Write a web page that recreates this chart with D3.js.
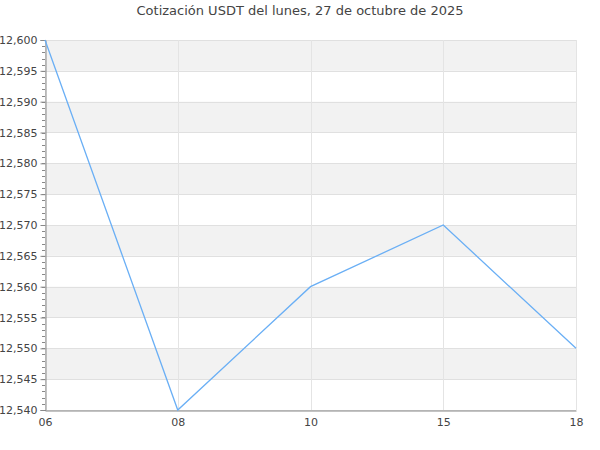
<!DOCTYPE html>
<html>
<head>
<meta charset="utf-8">
<script src="https://cdn.jsdelivr.net/npm/d3@7"></script>
</head>
<body style="margin:0; background:#fff;">
<div id="chart"></div>
<script>
    'use strict';

    var hours = ["06", "08", "10", "15", "18"];
    var prices = [12.600, 12.540, 12.560, 12.570, 12.550];
    var yTicks = [12.540, 12.545, 12.550, 12.555, 12.560, 12.565, 12.570, 12.575, 12.580, 12.585, 12.590, 12.595, 12.600];
    var title = "Cotización USDT del lunes, 27 de octubre de 2025";

    var width = 600, height = 450;
    var plotLeft = 45, plotRight = 576, plotTop = 40, plotBottom = 410;
    var textColor = "#444";

    var locale = d3.formatLocale({decimal: ",", thousands: ".", grouping: [3], currency: ["", ""]});
    var fmt = locale.format(".3f");

    var svg = d3.select("#chart").append("svg")
        .attr("width", width)
        .attr("height", height)
        .style("font-family", "DejaVu Sans");

    var x = d3.scalePoint().domain(hours).range([plotLeft, plotRight]);
    var y = d3.scaleLinear().domain([12.540, 12.600]).range([plotBottom, plotTop]);

    // alternating bands, gray on top
    for (var i = 0; i < yTicks.length - 1; i++) {
        var hi = yTicks[yTicks.length - 1 - i];
        var lo = yTicks[yTicks.length - 2 - i];
        if (i % 2 == 0) {
            svg.append("rect")
                .attr("x", plotLeft).attr("width", plotRight - plotLeft)
                .attr("y", y(hi)).attr("height", y(lo) - y(hi))
                .attr("fill", "#f2f2f2");
        }
    }

    // grid
    svg.append("g").selectAll("line").data(yTicks).join("line")
        .attr("x1", plotLeft).attr("x2", plotRight)
        .attr("y1", d => Math.round(y(d)) + 0.5).attr("y2", d => Math.round(y(d)) + 0.5)
        .attr("stroke", "#e0e0e0");
    svg.append("g").selectAll("line").data(hours).join("line")
        .attr("x1", d => Math.round(x(d)) + 0.5).attr("x2", d => Math.round(x(d)) + 0.5)
        .attr("y1", plotTop).attr("y2", plotBottom)
        .attr("stroke", "#e4e4e4");

    // y axis with minor ticks
    var minor = d3.range(0, 61).map(d => 12.540 + d * 0.001);
    svg.append("g").selectAll("line").data(minor).join("line")
        .attr("x1", plotLeft - 3).attr("x2", plotLeft)
        .attr("y1", d => Math.round(y(d)) + 0.5).attr("y2", d => Math.round(y(d)) + 0.5)
        .attr("stroke", "#888");

    var yAxis = svg.append("g")
        .attr("transform", "translate(" + (plotLeft + 0.5) + ",0)")
        .call(d3.axisLeft(y).tickValues(yTicks).tickFormat(fmt).tickSize(5).tickPadding(3));
    yAxis.select(".domain").attr("stroke", "#888");
    yAxis.selectAll(".tick line").attr("stroke", "#888");
    yAxis.selectAll("text").attr("fill", textColor).style("font-size", "11px").style("font-family", "DejaVu Sans");

    var xAxis = svg.append("g")
        .attr("transform", "translate(0," + (plotBottom + 0.5) + ")")
        .call(d3.axisBottom(x).tickSize(0).tickPadding(8));
    xAxis.select(".domain").attr("stroke", "#888");
    xAxis.selectAll("text").attr("fill", textColor).style("font-size", "11px").style("font-family", "DejaVu Sans");

    // line
    var line = d3.line()
        .x((d, i) => x(hours[i]))
        .y(d => y(d));
    svg.append("path")
        .datum(prices)
        .attr("d", line)
        .attr("fill", "none")
        .attr("stroke", "#6aaff5")
        .attr("stroke-width", 1.3);

    svg.append("text")
        .attr("x", width / 2)
        .attr("y", 15)
        .attr("text-anchor", "middle")
        .attr("fill", textColor)
        .style("font-size", "13px")
        .text(title);
</script>
</body>
</html>
